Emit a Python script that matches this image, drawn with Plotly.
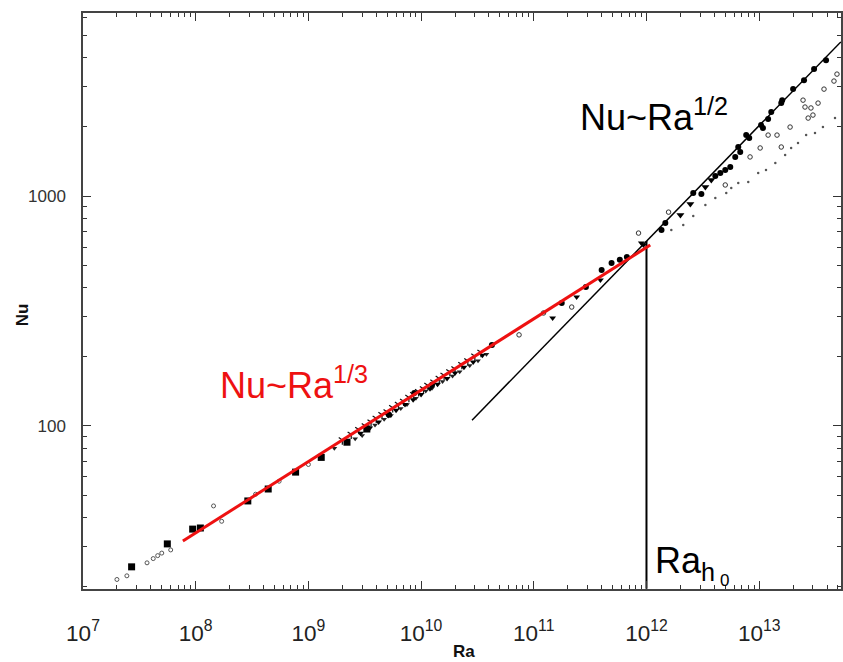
import plotly.graph_objects as go

# ---------------- data ----------------
# filled squares, low Ra
sq_ra = [2.7e7, 5.6e7, 9.4e7, 1.1e8, 2.9e8, 4.4e8, 7.7e8, 1.3e9, 2.2e9, 3.3e9]
sq_nu = [24.4, 30.7, 35.6, 36.0, 47.2, 53.2, 63, 73, 85, 97]

# faint small points, low Ra
lo_ra = [2.0e7, 2.45e7, 3.7e7, 4.2e7, 4.6e7, 5.0e7, 6.0e7, 1.44e8, 1.7e8, 3.4e8, 5.5e8, 1.0e9]
lo_nu = [21.5, 22.3, 25.4, 26.5, 27.3, 28.0, 28.9, 44.9, 38.5, 50.5, 57.5, 68]

# filled down-triangles along the 1/3 branch
tri_ra = [2.2e9, 2.9e9, 3.5e9, 4.2e9, 5.1e9, 6.0e9, 7.2e9, 8.5e9, 1.0e10, 1.2e10, 1.4e10,
          1.7e10, 2.0e10, 2.4e10, 2.9e10, 3.5e10, 1.47e11, 2.4e11, 3.9e11, 9.0e11, 9.4e11]
tri_nu = [85, 93, 98, 104, 111, 117, 124, 130, 137, 145, 152,
          161, 170, 180, 190, 203, 295, 364, 431, 625, 612]

# small crosses / ticks in the dense cloud
cr_ra = [2.0e9, 2.4e9, 2.8e9, 3.2e9, 3.6e9, 4.0e9, 4.5e9, 5.0e9, 5.6e9, 6.3e9, 7.0e9, 7.8e9,
         8.6e9, 9.5e9, 1.05e10, 1.15e10, 1.3e10, 1.45e10, 1.6e10, 1.8e10, 2.0e10, 2.3e10,
         2.6e10, 3.0e10, 3.4e10]
cr_nu = [87, 92, 96.5, 100, 104, 108, 112, 115, 120, 124, 128, 133,
         137, 141, 145, 150, 155, 161, 166, 172, 177, 185,
         192, 201, 209]

# second set of small marks in the dense cloud (slightly below the fit)
cr2_ra = [1.7e9, 2.6e9, 3.0e9, 3.9e9, 4.7e9, 5.4e9, 6.6e9, 7.5e9, 9.0e9, 1.1e10, 1.25e10,
          1.55e10, 1.9e10, 2.2e10, 2.7e10, 3.2e10, 3.8e10]
cr2_nu = [80, 88, 91, 101, 107, 111, 119, 124, 132, 142, 146,
          156, 165, 172, 183, 192, 205]

# filled circles
fc_ra = [3.3e9, 5.2e9, 8.7e9, 1.25e10, 4.25e10, 1.77e11, 2.9e11, 4.0e11, 4.9e11, 5.8e11,
         6.7e11, 1.36e12, 1.47e12, 2.6e12, 3.07e12, 4.08e12, 4.52e12, 5.0e12, 5.54e12,
         6.13e12, 6.52e12, 6.79e12, 7.67e12, 8.16e12, 1.04e13, 1.08e13, 1.2e13, 1.28e13,
         1.57e13, 1.6e13, 2.0e13, 2.5e13, 3.07e13, 3.92e13]
fc_nu = [98, 112, 139, 151, 225, 343, 402, 477, 511, 528,
         543, 711, 764, 1030, 1020, 1222, 1259, 1298, 1337,
         1479, 1634, 1553, 1841, 1787, 2035, 1975, 2163, 2318,
         2536, 2612, 2917, 3192, 3565, 3899]

# filled triangles on the 1/2 branch
tri2_ra = [2.0e12, 2.45e12, 3.33e12, 3.76e12]
tri2_nu = [826, 923, 1094, 1174]

# open circles
oc_ra = [7.4e10, 1.22e11, 2.17e11, 8.5e11, 1.57e12, 5.0e12, 8.3e12, 1.02e13, 1.2e13, 1.44e13,
         1.57e13, 1.88e13, 2.45e13, 2.55e13, 2.88e13, 3.0e13, 2.72e13, 3.33e13, 3.76e13,
         4.61e13, 4.9e13]
oc_nu = [249, 310, 329, 690, 851, 1117, 1479, 1618, 1841, 1841,
         1634, 1995, 2612, 2438, 2415, 2250, 2183, 2536, 2917,
         3162, 3390]

# small dots (third branch)
dot_ra = [1.66e12, 2.12e12, 2.6e12, 3.33e12, 4.08e12, 5.1e12, 5.65e12, 6.52e12, 8.0e12,
          9.8e12, 1.15e13, 1.39e13, 1.7e13, 1.92e13, 2.21e13, 2.61e13, 3.13e13, 3.68e13, 4.71e13]
dot_nu = [711, 748, 819, 914, 980, 1030, 1084, 1140, 1151,
          1259, 1298, 1391, 1507, 1618, 1700, 1841, 1878, 1995, 2183]

# fitted lines
red_ra = [7.7e7, 1.08e12]
red_nu = [31.6, 612]
half_ra = [2.83e10, 5.3e13]
half_nu = [106, 4680]
rah0_ra = [1.0e12, 1.0e12]
rah0_nu = [637, 19.6]

# ---------------- figure ----------------
fig = go.Figure()

fig.add_trace(go.Scatter(x=lo_ra, y=lo_nu, mode="markers",
                         marker=dict(symbol="circle-open", size=4, color="#555",
                                     line=dict(width=1, color="#555"))))
fig.add_trace(go.Scatter(x=dot_ra, y=dot_nu, mode="markers",
                         marker=dict(symbol="circle", size=2.5, color="#555")))
fig.add_trace(go.Scatter(x=oc_ra, y=oc_nu, mode="markers",
                         marker=dict(symbol="circle-open", size=4.5, color="#333",
                                     line=dict(width=1, color="#333"))))
fig.add_trace(go.Scatter(x=cr_ra, y=cr_nu, mode="markers",
                         marker=dict(symbol="y-down-open", size=6, color="#111",
                                     line=dict(width=1.2, color="#111"))))
fig.add_trace(go.Scatter(x=cr2_ra, y=cr2_nu, mode="markers",
                         marker=dict(symbol="triangle-down", size=5, color="#222")))
fig.add_trace(go.Scatter(x=tri_ra, y=tri_nu, mode="markers",
                         marker=dict(symbol="triangle-down", size=6, color="#000")))
fig.add_trace(go.Scatter(x=tri2_ra, y=tri2_nu, mode="markers",
                         marker=dict(symbol="triangle-down", size=7, color="#000")))
fig.add_trace(go.Scatter(x=fc_ra, y=fc_nu, mode="markers",
                         marker=dict(symbol="circle", size=6, color="#000")))
fig.add_trace(go.Scatter(x=sq_ra, y=sq_nu, mode="markers",
                         marker=dict(symbol="square", size=7, color="#000")))

fig.add_trace(go.Scatter(x=half_ra, y=half_nu, mode="lines",
                         line=dict(color="#000", width=1.5)))
fig.add_trace(go.Scatter(x=rah0_ra, y=rah0_nu, mode="lines",
                         line=dict(color="#000", width=2)))
fig.add_trace(go.Scatter(x=red_ra, y=red_nu, mode="lines",
                         line=dict(color="#ee1111", width=3)))

axis_common = dict(
    type="log", showgrid=False, zeroline=False,
    showline=True, linecolor="#444", linewidth=1.5, mirror="ticks",
    ticks="inside", ticklen=8, tickwidth=1.3, tickcolor="#333",
    minor=dict(dtick="D1", ticks="inside", ticklen=4, tickwidth=1, tickcolor="#333",
               showgrid=False),
)

fig.update_xaxes(**axis_common, range=[7, 13.726], dtick=1, exponentformat="power",
                 tickfont=dict(family="Liberation Sans", size=18, color="#222"),
                 ticklabelstandoff=24)
fig.update_yaxes(**axis_common, range=[1.291, 3.796], dtick=1, exponentformat="none",
                 tickfont=dict(family="Liberation Sans", size=17, color="#333"),
                 ticklabelstandoff=12)

fig.update_layout(
    width=843, height=662,
    margin=dict(l=83, r=0, t=13, b=73),
    paper_bgcolor="white", plot_bgcolor="white",
    showlegend=False,
    annotations=[
        dict(text="<b>Ra</b>", xref="paper", yref="paper", x=0.503, y=-0.109,
             xanchor="center", yanchor="middle", showarrow=False,
             font=dict(family="Liberation Sans", size=17, color="#111")),
        dict(text="<b>Nu</b>", xref="paper", yref="paper", x=-0.080, y=0.476,
             xanchor="center", yanchor="middle", textangle=-90, showarrow=False,
             font=dict(family="Liberation Sans", size=17, color="#111")),
        dict(text="Nu~Ra<sup>1/2</sup>", xref="paper", yref="paper", x=0.653, y=0.823,
             xanchor="left", yanchor="middle", showarrow=False,
             font=dict(family="Liberation Sans", size=36, color="#000")),
        dict(text="Nu~Ra<sup>1/3</sup>", xref="paper", yref="paper", x=0.178, y=0.358,
             xanchor="left", yanchor="middle", showarrow=False,
             font=dict(family="Liberation Sans", size=36, color="#ee1111")),
        dict(text="Ra<sub>h</sub>", xref="paper", yref="paper", x=0.752, y=0.045,
             xanchor="left", yanchor="middle", showarrow=False,
             font=dict(family="Liberation Sans", size=36, color="#000")),
        dict(text="0", xref="paper", yref="paper", x=0.838, y=0.014,
             xanchor="left", yanchor="middle", showarrow=False,
             font=dict(family="Liberation Sans", size=17, color="#000")),
    ],
)

fig.write_html("out.html")
